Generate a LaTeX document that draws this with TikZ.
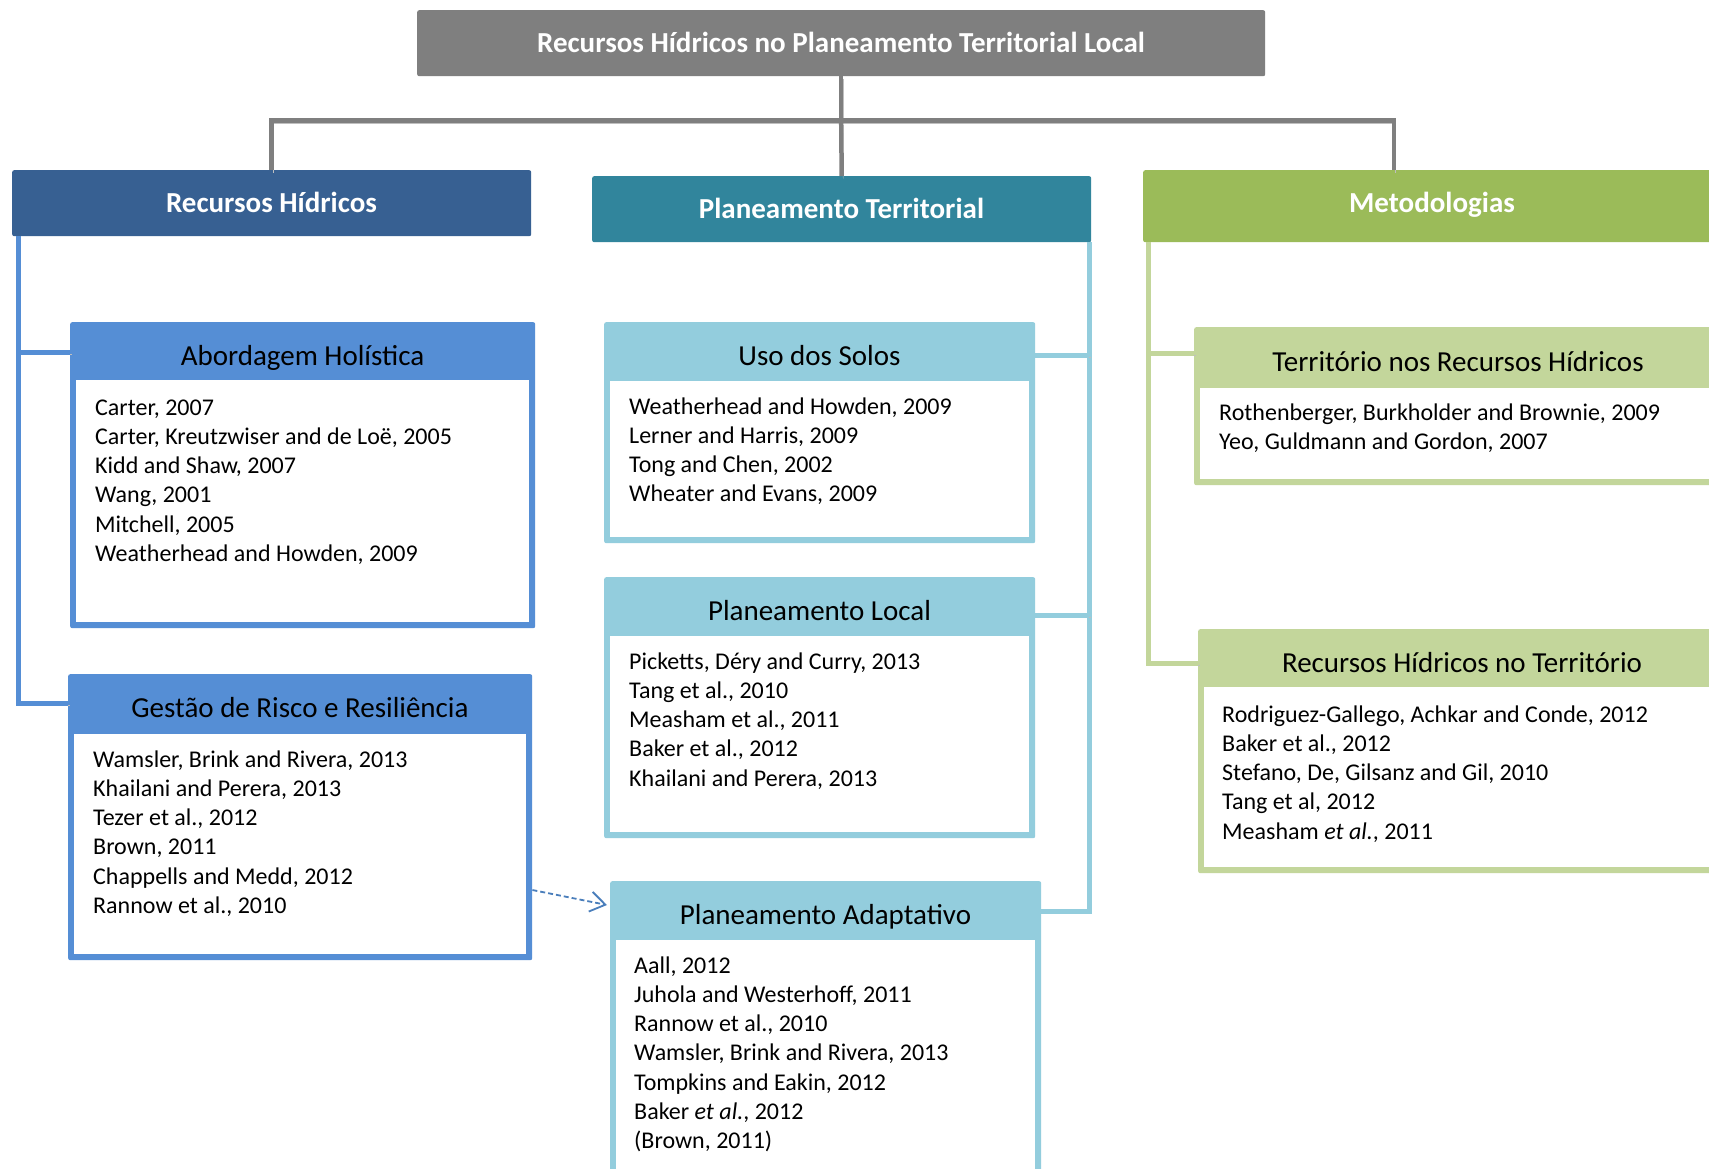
\documentclass[tikz,border=0pt]{standalone}
\usepackage{fontspec}
\setmainfont{Carlito}
\usetikzlibrary{calc,arrows.meta}

\definecolor{topgray}{HTML}{7F7F7F}
\definecolor{waterblue}{HTML}{376092}
\definecolor{planteal}{HTML}{31859C}
\definecolor{methgreen}{HTML}{9BBB59}
\definecolor{subblue}{HTML}{558ED5}
\definecolor{subteal}{HTML}{93CDDD}
\definecolor{subgreen}{HTML}{C3D69B}
\definecolor{arrowblue}{HTML}{4A7EBB}

% first line of every reference list starts 20pt above its baseline
\newcommand\firstline{\rule{0pt}{20pt}}

\begin{document}
\begin{tikzpicture}[x=1pt,y=-1pt,
  boxbase/.style={anchor=north west, inner sep=0, rounded corners=2pt},
  mainhead/.style={anchor=base, text=white, inner sep=0, font=\fontsize{29}{34}\selectfont\bfseries},
  subhead/.style={anchor=base, text=black, inner sep=0, font=\fontsize{29}{34}\selectfont},
  lst/.style={anchor=north west, align=left, inner sep=0, text=black, font=\fontsize{24}{29.2}\selectfont},
  conshadow/.style={preaction={draw=black!25, transform canvas={xshift=1.5pt,yshift=-2.5pt}}},
  gcon/.style={draw=topgray, line width=4.5pt, conshadow},
  bcon/.style={draw=subblue, line width=5pt, conshadow},
  tcon/.style={draw=subteal, line width=5pt, conshadow},
  ccon/.style={draw=subgreen, line width=5pt, conshadow},
  arr/.style={draw=arrowblue, line width=1.8pt, dash pattern=on 5pt off 3pt,
    -{Straight Barb[length=15pt,width=20pt,line width=1.8pt]}}
]
\clip (0,0) rectangle (1709,1168);
\fill[white] (0,0) rectangle (1709,1168);

% ---------- top level ----------
\node[boxbase, fill=topgray, minimum width=848, minimum height=66] (T) at (417,10) {};
\node[mainhead] (Tt) at (841,52.5) {Recursos Hídricos no Planeamento Territorial Local};

\node[boxbase, fill=waterblue, minimum width=519, minimum height=66] (H1) at (12,170) {};
\node[mainhead] (H1t) at (271.5,212.5) {Recursos Hídricos};

\node[boxbase, fill=planteal, minimum width=499, minimum height=66] (H2) at (592,176) {};
\node[mainhead] (H2t) at (841.5,218.5) {Planeamento Territorial};

\node[boxbase, fill=methgreen, minimum width=578, minimum height=72] (H3) at (1143,170) {};
\node[mainhead] (H3t) at (1432,212.5) {Metodologias};

% ---------- tree connector from the title ----------
\coordinate (J) at ($(T.south)+(0,44)$);
\coordinate (H3in) at ($(H3.north west)+(251,0)$);
\draw[gcon] (T.south) -- (J);
\draw[gcon] (H1.north) |- (J) -| (H3in);
\draw[gcon] (J) -- (H2.north);

% ---------- left column: water resources ----------
\node[boxbase, fill=subblue, minimum width=465, minimum height=306] (A1) at (70,322) {};
\fill[white] ($(A1.north west)+(6,58)$) rectangle ($(A1.south east)+(-6,-6)$);
\node[subhead] (A1t) at (302.5,365.5) {Abordagem Holística};
\node[lst] (A1l) at (95,395) {\firstline Carter, 2007\\Carter, Kreutzwiser and de Loë, 2005\\Kidd and Shaw, 2007\\Wang, 2001\\Mitchell, 2005\\Weatherhead and Howden, 2009};

\node[boxbase, fill=subblue, minimum width=464, minimum height=286] (A2) at (68,674) {};
\fill[white] ($(A2.north west)+(6,60)$) rectangle ($(A2.south east)+(-6,-6)$);
\node[subhead] (A2t) at (300,717.5) {Gestão de Risco e Resiliência};
\node[lst] (A2l) at (93,747) {\firstline Wamsler, Brink and Rivera, 2013\\Khailani and Perera, 2013\\Tezer et al., 2012\\Brown, 2011\\Chappells and Medd, 2012\\Rannow et al., 2010};

\coordinate (BL) at ($(H1.south west)+(6,0)$);
\coordinate (A1in) at ($(A1.north west)+(0,30)$);
\coordinate (A2in) at ($(A2.north west)+(0,29)$);
\draw[bcon] (BL) |- (A2in);
\draw[bcon] (BL |- A1in) -- (A1in);

% ---------- middle column: territorial planning ----------
\node[boxbase, fill=subteal, minimum width=431, minimum height=221] (U1) at (604,322) {};
\fill[white] ($(U1.north west)+(6,59)$) rectangle ($(U1.south east)+(-6,-6)$);
\node[subhead] (U1t) at (819.5,365.5) {Uso dos Solos};
\node[lst] (U1l) at (629,394) {\firstline Weatherhead and Howden, 2009\\Lerner and Harris, 2009\\Tong and Chen, 2002\\Wheater and Evans, 2009};

\node[boxbase, fill=subteal, minimum width=431, minimum height=261] (L1) at (604,577) {};
\fill[white] ($(L1.north west)+(6,59)$) rectangle ($(L1.south east)+(-6,-6)$);
\node[subhead] (L1t) at (819.5,620.5) {Planeamento Local};
\node[lst] (L1l) at (629,649) {\firstline Picketts, Déry and Curry, 2013\\Tang et al., 2010\\Measham et al., 2011\\Baker et al., 2012\\Khailani and Perera, 2013};

\node[boxbase, fill=subteal, minimum width=431, minimum height=330] (P1) at (610,881) {};
\fill[white] ($(P1.north west)+(6,59)$) rectangle ($(P1.south east)+(-6,-6)$);
\node[subhead] (P1t) at (825.5,924) {Planeamento Adaptativo};
\node[lst] (P1l) at (634,953) {\firstline Aall, 2012\\Juhola and Westerhoff, 2011\\Rannow et al., 2010\\Wamsler, Brink and Rivera, 2013\\Tompkins and Eakin, 2012\\Baker \textit{et al.}, 2012\\(Brown, 2011)};

\coordinate (TR) at ($(H2.south east)+(-2,0)$);
\coordinate (U1in) at ($(U1.north east)+(0,33)$);
\coordinate (L1in) at ($(L1.north east)+(0,38)$);
\coordinate (P1in) at ($(P1.north east)+(0,30)$);
\draw[tcon] (TR) |- (P1in);
\draw[tcon] (TR |- U1in) -- (U1in);
\draw[tcon] (TR |- L1in) -- (L1in);

% ---------- right column: methodologies ----------
\node[boxbase, fill=subgreen, minimum width=527, minimum height=158] (R1) at (1194,327) {};
\fill[white] ($(R1.north west)+(6,61)$) rectangle ($(R1.south east)+(-6,-6)$);
\node[subhead] (R1t) at (1458,371) {Território nos Recursos Hídricos};
\node[lst] (R1l) at (1219,400) {\firstline Rothenberger, Burkholder and Brownie, 2009\\Yeo, Guldmann and Gordon, 2007};

\node[boxbase, fill=subgreen, minimum width=528, minimum height=244] (R2) at (1198,629) {};
\fill[white] ($(R2.north west)+(6,58)$) rectangle ($(R2.south east)+(-6,-6)$);
\node[subhead] (R2t) at (1462,672) {Recursos Hídricos no Território};
\node[lst] (R2l) at (1222,702) {\firstline Rodriguez-Gallego, Achkar and Conde, 2012\\Baker et al., 2012\\Stefano, De, Gilsanz and Gil, 2010\\Tang et al, 2012\\Measham \textit{et al.}, 2011};

\coordinate (GL) at ($(H3.south west)+(5,0)$);
\coordinate (R1in) at ($(R1.north west)+(0,26)$);
\coordinate (R2in) at ($(R2.north west)+(0,34)$);
\draw[ccon] (GL) |- (R2in);
\draw[ccon] (GL |- R1in) -- (R1in);

% ---------- cross link ----------
\draw[arr] ($(A2.north east)+(0,216)$) -- ($(P1.north west)+(-3,24)$);
\end{tikzpicture}
\end{document}
